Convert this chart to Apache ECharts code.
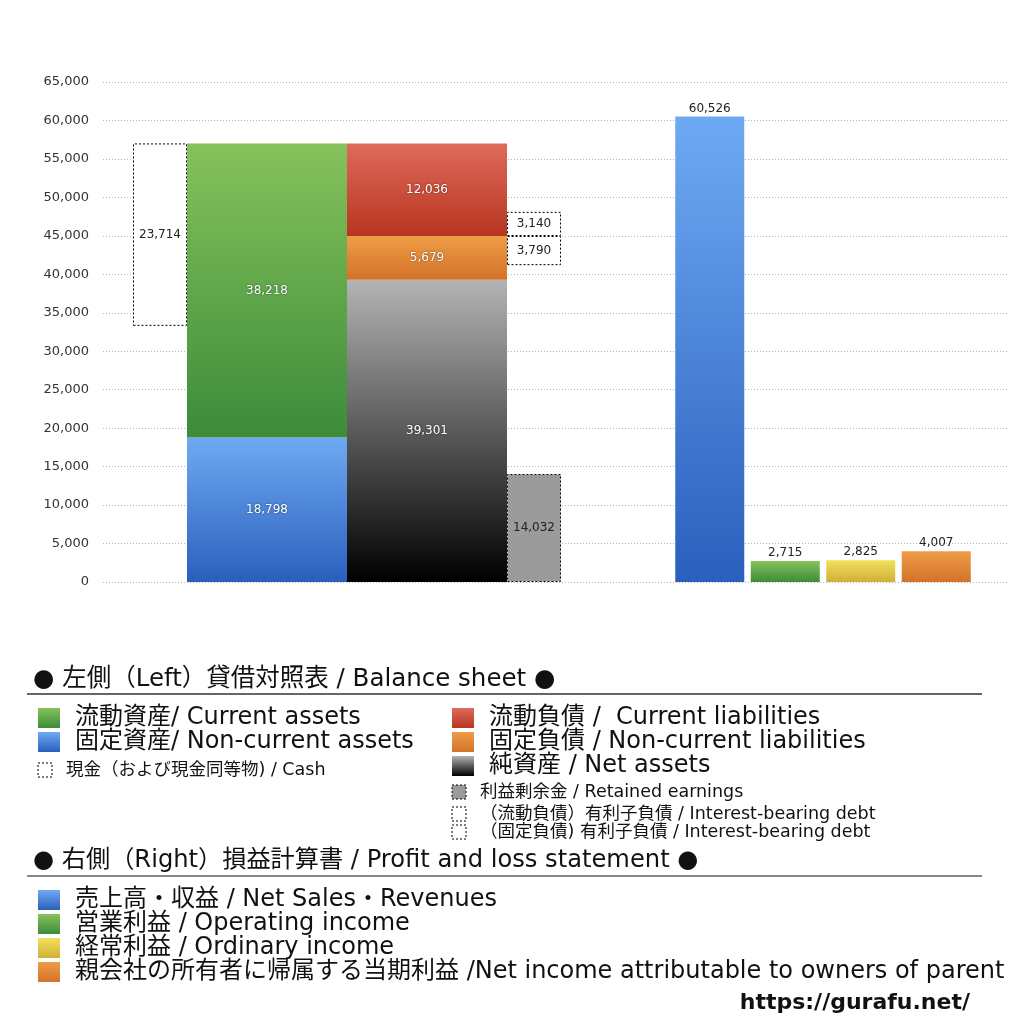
<!DOCTYPE html>
<html>
<head>
<meta charset="UTF-8">
<title>貸借対照表・損益計算書</title>
<style>
html, body { margin: 0; padding: 0; background: #fff; }
#main { width: 1024px; height: 1024px; }
</style>
</head>
<body>
<div id="main"></div>
<script src="https://cdn.jsdelivr.net/npm/echarts@6/dist/echarts.min.js"></script>
<script>
// 左側：貸借対照表
var assetNames = ['固定資産', '流動資産'];
var assetValues = [18798, 38218];
var liabNames = ['純資産', '固定負債', '流動負債'];
var liabValues = [39301, 5679, 12036];
var cashValue = 23714;
var retainedValue = 14032;
var debtCurrentValue = 3140;     // (流動負債) 有利子負債
var debtNonCurrentValue = 3790;  // (固定負債) 有利子負債

// 右側：損益計算書
var plNames = ['売上高・収益', '営業利益', '経常利益', '当期利益'];
var plValues = [60526, 2715, 2825, 4007];

// 縦軸
var yMin = 0, yMax = 65000, yStep = 5000;

var FONT = "'DejaVu Sans', 'Noto Sans CJK JP', sans-serif";

function grad(top, bottom) {
	return new echarts.graphic.LinearGradient(0, 0, 0, 1, [
		{ offset: 0, color: top },
		{ offset: 1, color: bottom }
	]);
}
var C = {
	green: grad('#86c25b', '#3c8c3a'),
	blue: grad('#6eaaf3', '#2b5fbd'),
	red: grad('#df6a5b', '#b73520'),
	orange: grad('#ef9d46', '#d3722a'),
	black: grad('#b4b4b4', '#000000'),
	yellow: grad('#f2e05e', '#cfb036')
};

function fmt(v) { return Number(v).toLocaleString('en-US'); }

var totalAssets = assetValues[0] + assetValues[1];

var whiteLabel = {
	show: true, position: 'inside', color: '#fff', fontSize: 12, fontFamily: FONT,
	textShadowColor: 'rgba(0,0,0,0.6)', textShadowBlur: 2,
	formatter: function (p) { return fmt(p.value); }
};
var darkLabel = {
	show: true, position: 'inside', color: '#222', fontSize: 12, fontFamily: FONT,
	formatter: function (p) { return fmt(p.value); }
};
var dashed = { borderColor: '#000', borderWidth: 1, borderType: [2, 2] };

function bsBar(name, stack, width, value, itemStyle, label) {
	return {
		name: name, type: 'bar', stack: stack, xAxisIndex: 1, yAxisIndex: 1,
		barWidth: width, barGap: '0%', data: [value],
		itemStyle: itemStyle, label: label || { show: false },
		emphasis: { disabled: true }, silent: true
	};
}

var series = [
	// 現金（資産の上端に揃える）
	bsBar('cashBase', 'cash', 54, totalAssets - cashValue, { color: 'transparent' }),
	bsBar('現金', 'cash', 54, cashValue, Object.assign({ color: '#fff' }, dashed), darkLabel),
	// 資産
	bsBar(assetNames[0], 'assets', 160, assetValues[0], { color: C.blue }, whiteLabel),
	bsBar(assetNames[1], 'assets', 160, assetValues[1], { color: C.green }, whiteLabel),
	// 負債・純資産
	bsBar(liabNames[0], 'liab', 160, liabValues[0], { color: C.black }, whiteLabel),
	bsBar(liabNames[1], 'liab', 160, liabValues[1], { color: C.orange }, whiteLabel),
	bsBar(liabNames[2], 'liab', 160, liabValues[2], { color: C.red }, whiteLabel),
	// 利益剰余金・有利子負債
	bsBar('利益剰余金', 'extra', 54, retainedValue, Object.assign({ color: '#9b9b9b' }, dashed), darkLabel),
	bsBar('debtBase', 'extra', 54, liabValues[0] + liabValues[1] - debtNonCurrentValue - retainedValue, { color: 'transparent' }),
	bsBar('(固定負債) 有利子負債', 'extra', 54, debtNonCurrentValue, Object.assign({ color: '#fff' }, dashed), darkLabel),
	bsBar('(流動負債) 有利子負債', 'extra', 54, debtCurrentValue, Object.assign({ color: '#fff' }, dashed), darkLabel),
	// 損益計算書
	{
		name: '損益計算書', type: 'bar', xAxisIndex: 2, yAxisIndex: 2,
		barWidth: 69, silent: true,
		data: plValues.map(function (v, i) {
			return { value: v, itemStyle: { color: [C.blue, C.green, C.yellow, C.orange][i] } };
		}),
		label: {
			show: true, position: 'top', distance: 2, color: '#222', fontSize: 12, fontFamily: FONT,
			formatter: function (p) { return fmt(p.value); }
		}
	}
];

// 凡例（下部）
var legendRows = [
	{ text: '流動資産/ Current assets', x: 38, y: 718, fill: C.green, size: 24 },
	{ text: '固定資産/ Non-current assets', x: 38, y: 742, fill: C.blue, size: 24 },
	{ text: '現金（および現金同等物) / Cash', x: 38, y: 770, fill: '#fff', size: 17.5, dash: true },
	{ text: '流動負債 /  Current liabilities', x: 452, y: 718, fill: C.red, size: 24 },
	{ text: '固定負債 / Non-current liabilities', x: 452, y: 742, fill: C.orange, size: 24 },
	{ text: '純資産 / Net assets', x: 452, y: 766, fill: C.black, size: 24 },
	{ text: '利益剰余金 / Retained earnings', x: 452, y: 792, fill: '#9b9b9b', size: 17.5, dash: true },
	{ text: '（流動負債）有利子負債 / Interest-bearing debt', x: 452, y: 814, fill: '#fff', size: 17.5, dash: true },
	{ text: '（固定負債) 有利子負債 / Interest-bearing debt', x: 452, y: 832, fill: '#fff', size: 17.5, dash: true },
	{ text: '売上高・収益 / Net Sales・Revenues', x: 38, y: 900, fill: C.blue, size: 24 },
	{ text: '営業利益 / Operating income', x: 38, y: 924, fill: C.green, size: 24 },
	{ text: '経常利益 / Ordinary income', x: 38, y: 948, fill: C.yellow, size: 24 },
	{ text: '親会社の所有者に帰属する当期利益 /Net income attributable to owners of parent', x: 38, y: 972, fill: C.orange, size: 24 }
];

var graphics = [
	{ type: 'text', style: { x: 33, y: 680, verticalAlign: 'middle', text: '● 左側（Left）貸借対照表 / Balance sheet ●', font: '24.5px ' + FONT, fill: '#111' } },
	{ type: 'line', shape: { x1: 27, y1: 694, x2: 982, y2: 694 }, style: { stroke: '#333', lineWidth: 1.5 } },
	{ type: 'text', style: { x: 33, y: 861, verticalAlign: 'middle', text: '● 右側（Right）損益計算書 / Profit and loss statement ●', font: '24.2px ' + FONT, fill: '#111' } },
	{ type: 'line', shape: { x1: 27, y1: 876, x2: 982, y2: 876 }, style: { stroke: '#888', lineWidth: 2 } },
	{ type: 'text', style: { x: 970, y: 1003, align: 'right', verticalAlign: 'middle', text: 'https://gurafu.net/', font: 'bold 22px ' + FONT, fill: '#111' } }
];
legendRows.forEach(function (r) {
	var big = r.size > 20;
	var s = big ? 20 : 14;
	graphics.push({
		type: 'rect',
		shape: { x: r.x, y: r.y - s / 2, width: big ? 22 : 14, height: s },
		style: r.dash ? { fill: r.fill, stroke: '#000', lineWidth: 1, lineDash: [2, 2] } : { fill: r.fill }
	});
	graphics.push({
		type: 'text',
		style: {
			x: r.x + (big ? 37 : 28), y: r.y, text: r.text,
			font: r.size + 'px ' + FONT, fill: '#111', verticalAlign: 'middle'
		}
	});
});

var chart = echarts.init(document.getElementById('main'));
chart.setOption({
	animation: false,
	backgroundColor: '#fff',
	textStyle: { fontFamily: FONT },
	grid: [
		{ left: 103, right: 17, top: 82, bottom: 442 },
		{ left: 103, right: 433, top: 82, bottom: 442 },
		{ left: 672, right: 50, top: 82, bottom: 442 }
	],
	xAxis: [
		{ type: 'category', gridIndex: 0, data: [''], show: false },
		{ type: 'category', gridIndex: 1, data: ['貸借対照表'], show: false },
		{ type: 'category', gridIndex: 2, data: plNames, show: false }
	],
	yAxis: [
		{
			type: 'value', gridIndex: 0, min: yMin, max: yMax, interval: yStep,
			axisLine: { show: false }, axisTick: { show: false },
			axisLabel: { color: '#333', fontSize: 13, margin: 14, fontFamily: FONT, formatter: fmt },
			splitLine: { lineStyle: { color: '#b5b5b5', type: [1, 2], width: 1 } }
		},
		{ type: 'value', gridIndex: 1, min: yMin, max: yMax, interval: yStep, show: false, splitLine: { show: false } },
		{ type: 'value', gridIndex: 2, min: yMin, max: yMax, interval: yStep, show: false, splitLine: { show: false } }
	],
	series: series,
	graphic: graphics
});
</script>
</body>
</html>
